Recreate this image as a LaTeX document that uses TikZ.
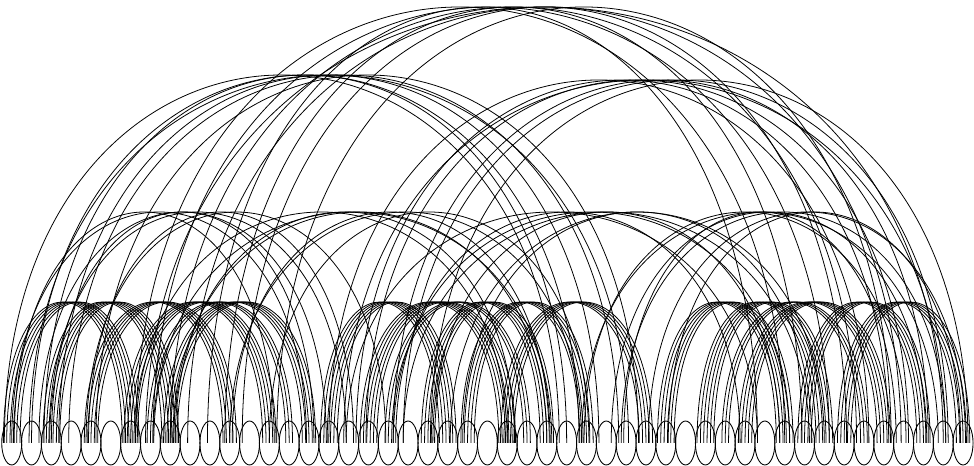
\documentclass[tikz,border=0pt]{standalone}
\usepackage{tikz}
\usetikzlibrary{shapes.geometric}

\tikzset{
  vertex/.style={draw, ellipse, inner sep=0pt, minimum width=0.4cm,
                 minimum height=0.88cm, line width=0.5pt},
  link/.style={line width=0.45pt}
}

\begin{document}
\begin{tikzpicture}[x=0.02cm, y=0.02cm]
  \useasboundingbox (0,0) rectangle (974,466);

  % Vertices along the base line
  \foreach \i in {0,...,48}{
    \node[vertex] (n\i) at ({11.7+19.82*\i}, 23) {};
  }

  % Low arcs in bundles: from/to/number of parallel arcs
  \foreach \a/\b/\k in {
      0/6/6, 2/8/6, 4/11/5, 6/13/5, 8/15/5, 7/14/3,
      16/22/6, 18/25/6, 21/27/5, 23/29/5, 25/32/5, 19/26/3,
      33/39/6, 35/41/6, 37/44/5, 40/46/5, 42/48/5, 36/43/3}{
    \foreach \j in {1,...,\k}{
      \pgfmathsetmacro{\o}{(\j-(\k+1)/2)*1.9}
      \draw[link] ([xshift=\o pt]n\a.center)
        .. controls +(0,188) and +(0,188) .. ([xshift=\o pt]n\b.center);
    }
  }

  % Long arcs: from/to/height
  \foreach \a/\b/\h in {
      0/13/231, 0/15/231, 1/16/231, 2/15/231, 2/17/231, 4/17/231, 4/19/231,
      6/25/231, 7/27/231, 8/27/231, 11/27/231, 11/29/231, 13/29/231, 8/25/231,
      17/38/231, 19/39/231, 20/40/231, 22/41/231, 19/37/231, 21/39/231, 23/40/231,
      29/45/231, 30/46/231, 31/47/231, 32/48/231, 31/45/231, 29/47/231, 33/48/231,
      0/28/368, 1/29/368, 2/28/368, 1/31/368, 2/30/368, 3/31/368, 4/32/368,
      16/43/363, 17/44/363, 18/45/363, 17/47/363, 19/46/363, 20/47/363, 21/48/363,
      6/39/436, 7/41/436, 8/43/436, 10/38/436, 11/40/436,
      12/42/436, 13/44/436, 7/47/436, 9/45/436}{
    \pgfmathsetmacro{\K}{\h/0.75}
    \pgfmathsetmacro{\oa}{(mod(\a*7+\b*3,7)-3)*1.4}
    \pgfmathsetmacro{\ob}{(mod(\a*5+\b*2,7)-3)*1.4}
    \draw[link] ([xshift=\oa pt]n\a.center)
      .. controls +(0,\K) and +(0,\K) .. ([xshift=\ob pt]n\b.center);
  }
\end{tikzpicture}
\end{document}
